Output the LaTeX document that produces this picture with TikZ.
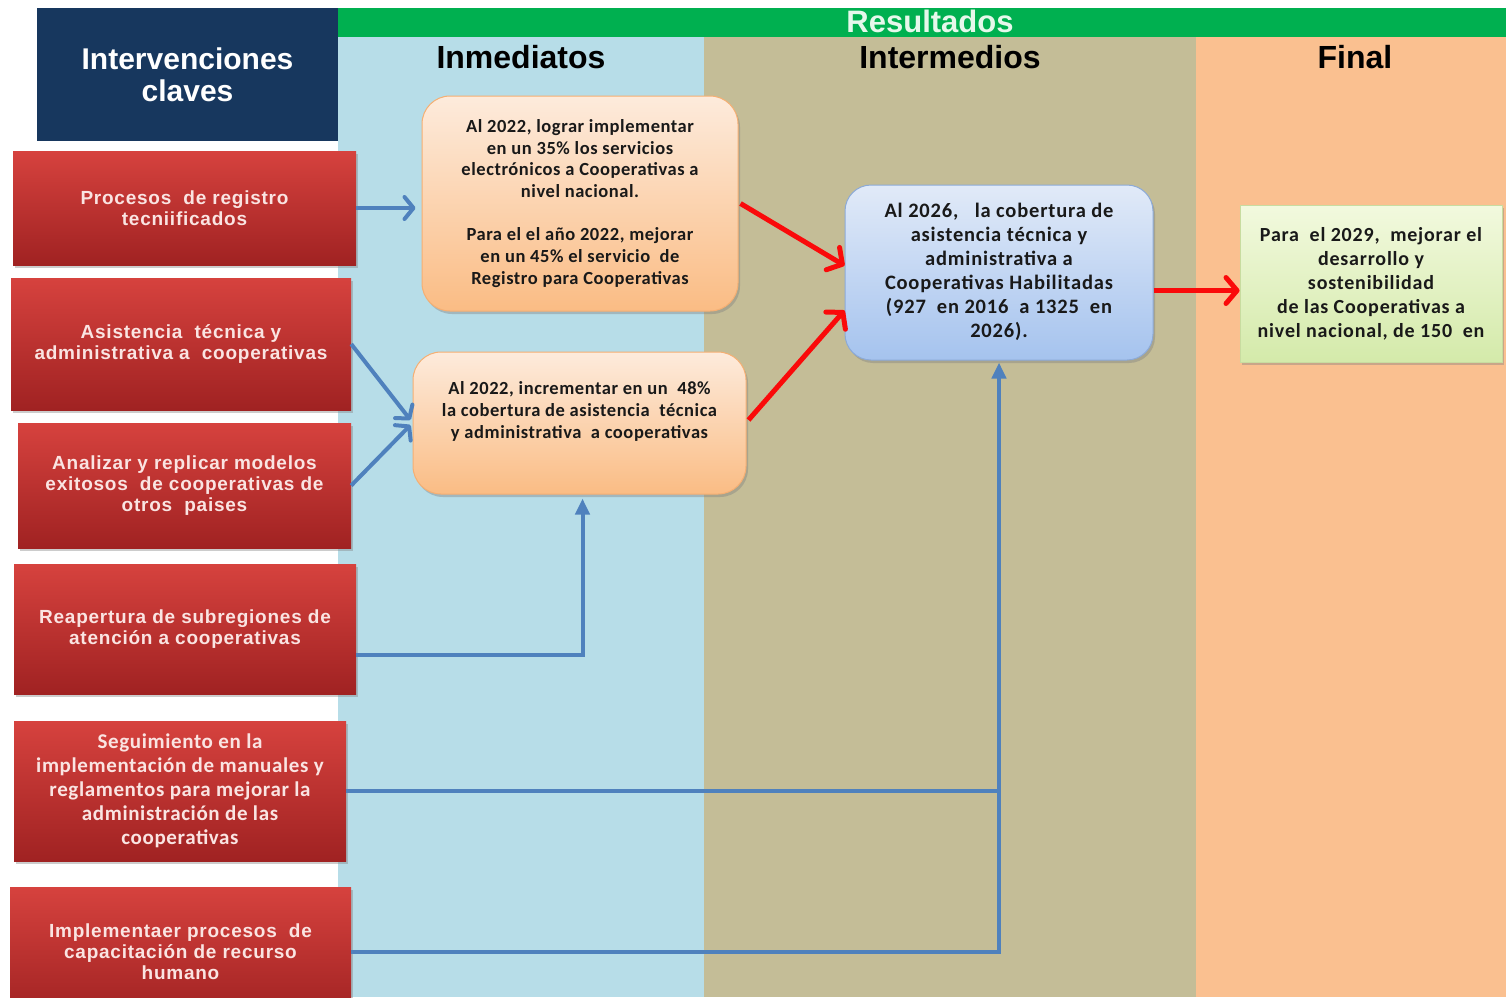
\documentclass[tikz,border=0pt]{standalone}
\usepackage{fontspec}
\setmainfont{Liberation Sans}
\newfontfamily\redfont{Liberation Sans}[LetterSpace=4]
\newfontfamily\calfont{Carlito}[LetterSpace=3]
\newfontfamily\calwide{Carlito}[LetterSpace=4]
\usetikzlibrary{arrows.meta,shadows,calc}
\definecolor{navy}{RGB}{23,55,94}
\definecolor{greenbar}{RGB}{0,176,80}
\definecolor{restext}{RGB}{230,248,235}
\definecolor{colblue}{RGB}{183,221,232}
\definecolor{coltan}{RGB}{196,189,151}
\definecolor{colpeach}{RGB}{250,192,144}
\definecolor{redtop}{RGB}{214,66,62}
\definecolor{redbot}{RGB}{160,34,34}
\definecolor{redtext}{RGB}{250,228,226}
\definecolor{ortop}{RGB}{253,235,220}
\definecolor{orbot}{RGB}{250,188,132}
\definecolor{ordraw}{RGB}{245,175,115}
\definecolor{bltop}{RGB}{225,234,248}
\definecolor{blbot}{RGB}{165,195,238}
\definecolor{bldraw}{RGB}{140,170,215}
\definecolor{grtop}{RGB}{242,249,222}
\definecolor{grbot}{RGB}{212,234,170}
\definecolor{grdraw}{RGB}{200,220,160}
\definecolor{lineblue}{RGB}{79,129,189}
\definecolor{linered}{RGB}{250,10,10}
\tikzset{
  shadowed/.style={drop shadow={opacity=0.4, shadow xshift=2pt, shadow yshift=-3pt}},
  redbox/.style={rectangle, inner sep=0pt, top color=redtop, bottom color=redbot,
    text=redtext, align=center, shadowed,
    font=\redfont\bfseries\fontsize{19}{21}\selectfont},
  headtext/.style={font=\bfseries\fontsize{32}{34}\selectfont, text=black, inner sep=0pt},
  orbox/.style={rectangle, rounded corners=28pt, inner sep=0pt, top color=ortop, bottom color=orbot,
    draw=ordraw, line width=1pt, shadowed},
  blbox/.style={rectangle, rounded corners=26pt, inner sep=0pt, top color=bltop, bottom color=blbot,
    draw=bldraw, line width=1pt, shadowed},
  grbox/.style={rectangle, inner sep=0pt, top color=grtop, bottom color=grbot,
    draw=grdraw, line width=1pt, shadowed},
  boxtext/.style={align=center, inner sep=0pt, text=black!90},
  blueline/.style={draw=lineblue, line width=4pt},
  bluebarb/.style={blueline, -{Straight Barb[length=9pt,width=22pt,round]}},
  bluetri/.style={blueline, -{Triangle[length=16pt,width=14pt]}},
  redarrow/.style={draw=linered, line width=5pt, -{Straight Barb[length=11pt,width=26pt,round]}}
}
\begin{document}
\begin{tikzpicture}[x=1pt,y=-1pt]
\useasboundingbox (0,0) rectangle (1506,997);
\fill[white] (0,0) rectangle (1506,997);
% columns
\fill[colblue] (338,37) rectangle (704,997);
\fill[coltan] (704,37) rectangle (1196,997);
\fill[colpeach] (1196,37) rectangle (1506,997);
% header
\node[fill=greenbar, minimum width=1168pt, minimum height=29pt, inner sep=0pt] (bar) at (922,22.5) {};
\node[text=restext, font=\bfseries\fontsize{31}{32}\selectfont, inner sep=0pt] (res) at (930,21) {Resultados};
\node[fill=navy, minimum width=301pt, minimum height=133pt, inner sep=0pt, text=white, align=center,
  font=\bfseries\fontsize{30}{32}\selectfont] (iv) at (187.5,74.5) {Intervenciones\\claves};
\node[headtext] (h1) at (521,57) {Inmediatos};
\node[headtext] (h2) at (950,57) {Intermedios};
\node[headtext] (h3) at (1355,57) {Final};
% red boxes
\node[redbox, minimum width=343pt, minimum height=114pt] (r1) at (184.5,208) {Procesos\ \ de registro\\tecniificados};
\node[redbox, minimum width=340pt, minimum height=132pt] (r2) at (181,344) {Asistencia\ \ técnica y\\administrativa a\ \ cooperativas};
\node[redbox, minimum width=333pt, minimum height=125pt] (r3) at (184.5,485.5) {Analizar y replicar modelos\\exitosos\ \ de cooperativas de\\otros\ \ paises};
\node[redbox, minimum width=342pt, minimum height=130pt] (r4) at (185,629) {Reapertura de subregiones de\\atención a cooperativas};
\node[redbox, minimum width=332pt, minimum height=140pt, font=\calfont\bfseries\fontsize{21}{24}\selectfont] (r5) at (180,791) {Seguimiento en la\\implementación de manuales y\\reglamentos para mejorar la\\administración de las\\cooperativas};
\node[redbox, minimum width=341pt, minimum height=130pt] (r6) at (180.5,952) {Implementaer procesos\ \ de\\capacitación de recurso\\humano};
% result boxes
\node[orbox, minimum width=316pt, minimum height=215pt] (A) at (580,203.5) {};
\node[boxtext, font=\calfont\bfseries\fontsize{18.5}{21.7}\selectfont] (At) at (580,203.5)
  {Al 2022, lograr implementar\\en un 35\% los servicios\\electrónicos a Cooperativas a\\nivel nacional.\\[21.7pt]Para el el año 2022, mejorar\\en un 45\% el servicio\ \ de\\Registro para Cooperativas};
\node[orbox, minimum width=333pt, minimum height=142pt] (B) at (579.5,423) {};
\node[boxtext, font=\calfont\bfseries\fontsize{18.5}{21.7}\selectfont] (Bt) at (579.5,411.5)
  {Al 2022, incrementar en un\ \ 48\%\\la cobertura de asistencia\ \ técnica\\y administrativa\ \ a cooperativas};
\node[blbox, minimum width=308pt, minimum height=175pt] (C) at (999,272.5) {};
\node[boxtext, font=\calwide\bfseries\fontsize{20.5}{24}\selectfont] (Ct) at (999,272)
  {Al 2026,\ \ \ la cobertura de\\asistencia técnica y\\administrativa a\\Cooperativas Habilitadas\\(927\ \ en 2016\ \ a 1325\ \ en\\2026).};
\node[grbox, minimum width=262pt, minimum height=157pt] (D) at (1371,283.5) {};
\node[boxtext, font=\calwide\bfseries\fontsize{20}{24}\selectfont] (Dt) at (1371,284)
  {Para\ \ el 2029,\ \ mejorar el\\desarrollo y\\sostenibilidad\\de las Cooperativas a\\nivel nacional, de 150\ \ en};
% blue connectors
\draw[bluebarb] (r1.east) -- ($(r1.east -| A.west)+(-6,0)$);
\draw[bluebarb] (r2.east) -- ($(B.west)+(-2,-3)$);
\draw[bluebarb] (r3.east) -- ($(B.west)+(-2,2)$);
\draw[bluetri] ([yshift=-26pt]r4.east) -| ($(B.south)+(3,4)$);
\draw[blueline] (r5.east) -- (r5.east -| C.south);
\draw[bluetri] (r6.east) -| ($(C.south)+(0,2)$);
% red connectors
\draw[redarrow] ($(A.east)+(2,0)$) -- ([yshift=7pt]C.west);
\draw[redarrow] ($(B.east)+(2,-3)$) -- ([yshift=-38pt]C.west);
\draw[redarrow] ([yshift=-18pt]C.east) -- ([yshift=-18pt]C.east -| D.west);
\end{tikzpicture}
\end{document}
